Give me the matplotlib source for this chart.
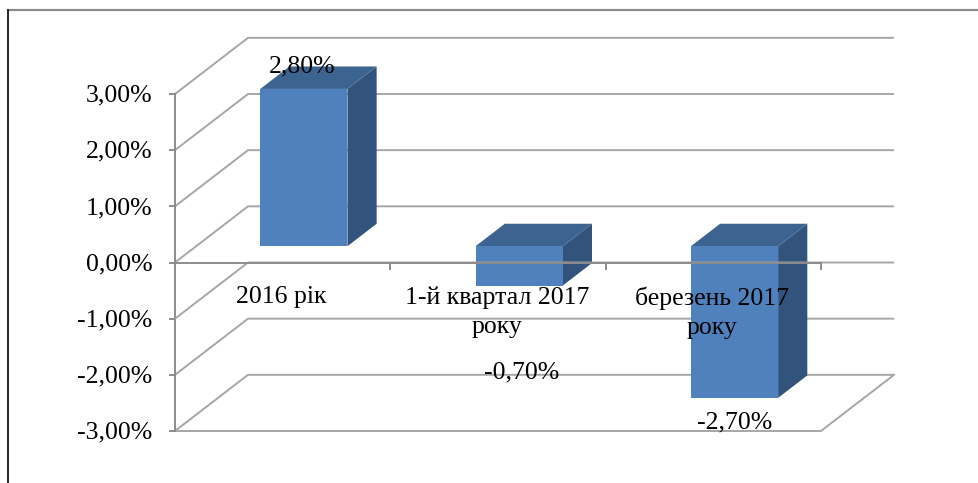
import matplotlib
matplotlib.use('Agg')
import matplotlib.pyplot as plt
from matplotlib.patches import Polygon
from matplotlib.lines import Line2D

categories = ['2016 рік', '1-й квартал 2017\nроку', 'березень 2017\nроку']
values = [2.8, -0.7, -2.7]
value_labels = ['2,80%', '-0,70%', '-2,70%']
y_ticks = [3, 2, 1, 0, -1, -2, -3]
y_tick_labels = ['3,00%', '2,00%', '1,00%', '0,00%', '-1,00%', '-2,00%', '-3,00%']

plt.rcParams['font.family'] = ['Liberation Serif', 'DejaVu Serif']
FS = 18.5

W, H = 979, 483
fig = plt.figure(figsize=(W / 100, H / 100), dpi=100)

# front plane of the 3d box (pixels from top-left): x 175..821, y 94..431
ax = fig.add_axes([175 / W, (H - 431) / H, 646 / W, 337 / H])
ax.set_xlim(0, 3)
ax.set_ylim(-3, 3)
ax.axis('off')

# oblique projection: full depth moves a point right and up
DX, DY = 73 / 215.3, 1.0


def P(x, y, d):
    return (x + d * DX, y + d * DY)


grid_c = '#A6A6A6'
axis_c = '#8C8C8C'
lw = 1.4

# side wall diagonals + back wall gridlines
for y in y_ticks:
    pts = [P(0, y, 0), P(0, y, 1), P(3, y, 1)]
    z = 5 if y == -1 else 1
    ax.plot([p[0] for p in pts], [p[1] for p in pts], color=grid_c, lw=lw,
            clip_on=False, zorder=z, solid_capstyle='butt')

# floor front and right edges
pts = [P(0, -3, 0), P(3, -3, 0), P(3, -3, 1)]
ax.plot([p[0] for p in pts], [p[1] for p in pts], color=grid_c, lw=lw,
        clip_on=False, zorder=1)

# value axis with ticks
ax.plot([0, 0], [-3, 3], color=axis_c, lw=lw, clip_on=False, zorder=2)
for y, lab in zip(y_ticks, y_tick_labels):
    ax.plot([-0.025, 0], [y, y], color=axis_c, lw=lw, clip_on=False, zorder=2)
    ax.text(-0.105, y - 0.03, lab, ha='right', va='center', fontsize=FS,
            color='black')

# bars
front_c, top_c, side_c = '#4F81BD', '#3D6491', '#31537C'
d0, d1 = 0.29, 0.69
half = 0.2025
for i, v in enumerate(values):
    c = i + 0.5
    x0, x1 = c - half, c + half
    top = max(v, 0)
    side = [P(x1, 0, d0), P(x1, v, d0), P(x1, v, d1), P(x1, 0, d1)]
    lid = [P(x0, top, d0), P(x1, top, d0), P(x1, top, d1), P(x0, top, d1)]
    front = [P(x0, 0, d0), P(x1, 0, d0), P(x1, v, d0), P(x0, v, d0)]
    for poly, col in ((side, side_c), (lid, top_c), (front, front_c)):
        ax.add_patch(Polygon(poly, closed=True, facecolor=col, edgecolor='none',
                             clip_on=False, zorder=3))

# category axis at zero, drawn over the bars
ax.plot([0, 3], [0, 0], color=axis_c, lw=lw, clip_on=False, zorder=5)
for k in range(1, len(categories) + 1):
    ax.plot([k, k], [0, -0.12], color=axis_c, lw=lw, clip_on=False, zorder=5)

for i, lab in enumerate(categories):
    ax.text(i + 0.495, -0.42, lab, ha='center', va='top', fontsize=FS,
            linespacing=1.45, zorder=6)

# data labels
label_dx = [0.09, 0.11, 0.10]
label_dy = [0.69, -1.26, -0.15]
for i, (v, lab) in enumerate(zip(values, value_labels)):
    ax.text(i + 0.5 + label_dx[i], v + label_dy[i], lab, ha='center',
            va='center', fontsize=FS, zorder=6)

# chart frame (top and left edges)
fig.add_artist(Line2D([8 / W, 1], [1 - 10 / H, 1 - 10 / H], color='#8C8C8C',
                      lw=1.6, transform=fig.transFigure))
fig.add_artist(Line2D([8 / W, 8 / W], [0, 1 - 10 / H], color='#262626',
                      lw=1.4, transform=fig.transFigure))

fig.savefig('out.png', dpi=100)
